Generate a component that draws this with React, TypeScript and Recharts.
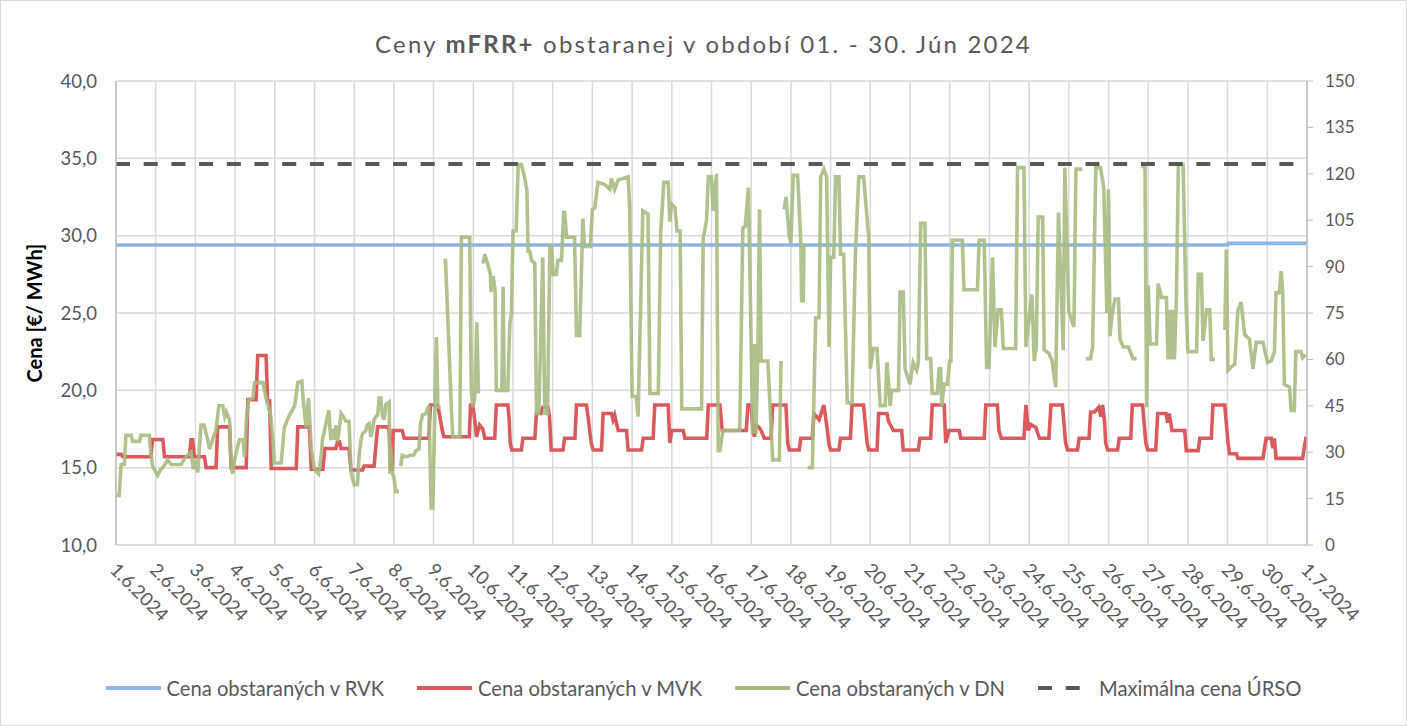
import { LineChart, Line, XAxis, YAxis, CartesianGrid, Legend } from 'recharts';

type Pt = [number, number | null];

const W = 1407;
const H = 726;
const FONT = 'Lato, "Noto Sans", sans-serif';
const TEXT = '#595959';

// x = days since 1.6.2024 00:00
const dayLabels = [
  '1.6.2024', '2.6.2024', '3.6.2024', '4.6.2024', '5.6.2024', '6.6.2024', '7.6.2024',
  '8.6.2024', '9.6.2024', '10.6.2024', '11.6.2024', '12.6.2024', '13.6.2024', '14.6.2024',
  '15.6.2024', '16.6.2024', '17.6.2024', '18.6.2024', '19.6.2024', '20.6.2024', '21.6.2024',
  '22.6.2024', '23.6.2024', '24.6.2024', '25.6.2024', '26.6.2024', '27.6.2024', '28.6.2024',
  '29.6.2024', '30.6.2024', '1.7.2024',
];
const dayTicks = dayLabels.map((_, i) => i);
const leftTicks = [10, 15, 20, 25, 30, 35, 40];
const rightTicks = [0, 15, 30, 45, 60, 75, 90, 105, 120, 135, 150];

// Cena obstaraných v RVK
const rvk: Pt[] = [[0, 29.4], [28, 29.4], [28.02, 29.5], [30, 29.5]];

// Maximálna cena ÚRSO (right axis)
const urso: Pt[] = [[0, 123.2], [30, 123.2]];

// Cena obstaraných v MVK
const mvk: Pt[] = [
  [0, 15.86], [0.13, 15.86], [0.17, 15.71], [0.88, 15.71], [0.92, 16.82], [1.18, 16.82], [1.22, 15.71],
  [1.85, 15.71], [1.89, 16.8], [1.93, 16.8], [1.97, 15.71], [2.23, 15.71], [2.27, 15.0], [2.52, 15.0],
  [2.56, 17.64], [2.86, 17.64], [2.9, 15.0], [3.28, 15.0], [3.32, 19.4], [3.53, 19.4], [3.57, 22.25],
  [3.78, 22.25], [3.82, 19.3], [3.87, 19.3], [3.91, 14.95], [4.54, 14.95], [4.58, 17.64], [4.87, 17.64],
  [4.92, 14.9], [5.21, 14.9], [5.26, 16.24], [5.54, 16.24], [5.58, 16.67], [5.63, 16.67], [5.67, 16.24],
  [5.87, 16.24], [5.92, 14.85], [6.21, 14.85], [6.25, 15.1], [6.5, 15.1], [6.59, 17.64], [6.84, 17.64],
  [6.88, 17.4], [6.92, 14.9], [6.96, 14.9], [6.98, 17.4], [7.21, 17.4], [7.26, 16.9], [7.88, 16.9],
  [7.92, 19.05], [8.09, 19.05], [8.13, 18.7], [8.22, 17.4], [8.26, 17.0], [8.9, 17.0], [8.93, 19.05],
  [8.99, 19.05], [9.03, 18.2], [9.08, 17.0], [9.16, 17.75], [9.24, 17.5], [9.29, 16.9], [9.54, 16.9],
  [9.58, 19.05], [9.87, 19.05], [9.9, 18.3], [9.93, 16.6], [9.97, 16.14], [10.21, 16.14], [10.25, 16.9],
  [10.55, 16.9], [10.59, 18.5], [10.7, 18.5], [10.75, 18.9], [10.88, 18.9], [10.92, 18.3], [10.96, 16.14],
  [11.26, 16.14], [11.3, 16.9], [11.56, 16.9], [11.6, 19.05], [11.85, 19.05], [11.89, 18.3], [11.97, 16.6],
  [12.02, 16.14], [12.23, 16.14], [12.27, 18.5], [12.48, 18.5], [12.52, 18.1], [12.56, 18.4], [12.65, 17.4],
  [12.86, 17.4], [12.9, 16.14], [13.24, 16.14], [13.28, 16.9], [13.53, 16.9], [13.57, 19.05], [13.91, 19.05],
  [13.95, 16.6], [14.0, 17.4], [14.29, 17.4], [14.33, 16.9], [14.88, 16.9], [14.92, 19.05], [15.21, 19.05],
  [15.27, 17.4], [15.875, 17.4], [15.92, 19.05], [16.0, 19.05], [16.04, 17.65], [16.08, 17.0], [16.12, 17.75],
  [16.2, 17.6], [16.25, 17.4], [16.33, 16.9], [16.5, 16.9], [16.54, 19.05], [16.875, 19.05], [16.92, 16.6],
  [16.96, 16.14], [17.21, 16.14], [17.25, 16.9], [17.54, 16.9], [17.58, 18.5], [17.65, 18.3], [17.71, 18.1],
  [17.83, 19.05], [17.92, 17.4], [17.96, 16.5], [18.0, 16.14], [18.21, 16.14], [18.25, 16.9], [18.5, 16.9],
  [18.54, 19.05], [18.83, 19.05], [18.92, 16.6], [18.96, 16.14], [19.17, 16.14], [19.21, 18.5], [19.42, 18.5],
  [19.46, 18.0], [19.58, 17.4], [19.79, 17.4], [19.83, 16.14], [20.21, 16.14], [20.25, 16.9], [20.52, 16.9],
  [20.56, 19.05], [20.86, 19.05], [20.9, 16.6], [20.98, 17.4], [21.24, 17.4], [21.28, 16.9], [21.87, 16.9],
  [21.91, 19.05], [22.2, 19.05], [22.24, 17.4], [22.3, 16.9], [22.87, 16.9], [22.92, 19.05], [22.98, 17.4],
  [23.04, 17.8], [23.17, 17.6], [23.26, 16.9], [23.5, 16.9], [23.55, 19.05], [23.84, 19.05], [23.92, 16.6],
  [23.97, 16.14], [24.22, 16.14], [24.26, 16.9], [24.51, 16.9], [24.55, 18.6], [24.65, 18.6], [24.75, 18.9],
  [24.81, 18.3], [24.85, 19.05], [24.9, 18.0], [24.93, 16.6], [24.98, 16.14], [25.23, 16.14], [25.27, 16.9],
  [25.56, 16.9], [25.6, 19.05], [25.86, 19.05], [25.94, 16.6], [25.99, 16.14], [26.19, 16.14], [26.24, 18.5],
  [26.45, 18.5], [26.49, 17.9], [26.53, 18.5], [26.6, 17.4], [26.92, 17.4], [26.96, 16.1], [27.26, 16.1],
  [27.3, 16.9], [27.59, 16.9], [27.63, 19.05], [27.93, 19.05], [28.01, 16.6], [28.05, 15.9], [28.22, 15.9],
  [28.26, 15.6], [28.89, 15.6], [28.97, 16.9], [29.1, 16.9], [29.14, 16.25], [29.18, 16.9], [29.22, 15.6],
  [29.89, 15.6], [29.97, 16.9], [30, 16.9],
];

// Cena obstaraných v DN (null = no data)
const dn: Pt[] = [
  [0, 13.2], [0.08, 13.2], [0.13, 15.2], [0.21, 15.2], [0.25, 17.1], [0.38, 17.1], [0.42, 16.7], [0.59, 16.7],
  [0.63, 17.1], [0.84, 17.1], [0.88, 15.9], [0.92, 15.1], [1.05, 14.5], [1.13, 14.9], [1.18, 15.0], [1.3, 15.5],
  [1.39, 15.2], [1.64, 15.2], [1.76, 15.7], [1.89, 16.0], [1.95, 14.9], [2.0, 15.5], [2.06, 14.7], [2.14, 17.75],
  [2.22, 17.75], [2.31, 16.8], [2.36, 16.2], [2.44, 16.9], [2.52, 17.4], [2.59, 19.0], [2.69, 19.0], [2.74, 18.3],
  [2.78, 18.6], [2.86, 18.1], [2.9, 15.1], [2.94, 14.6], [3.0, 15.7], [3.11, 16.8], [3.2, 16.8], [3.24, 15.7],
  [3.28, 17.9], [3.34, 19.4], [3.45, 19.5], [3.49, 20.5], [3.7, 20.5], [3.78, 19.5], [3.9, 18.3], [3.95, 16.8],
  [3.99, 15.3], [4.16, 15.3], [4.24, 17.6], [4.37, 18.4], [4.5, 19.0], [4.58, 20.5], [4.68, 20.6], [4.71, 19.5],
  [4.79, 17.6], [4.85, 19.5], [4.92, 16.1], [5.0, 14.9], [5.1, 14.6], [5.17, 15.8], [5.2, 16.8], [5.36, 18.7],
  [5.41, 16.8], [5.46, 17.5], [5.5, 16.8], [5.54, 17.75], [5.58, 16.7], [5.62, 17.4], [5.67, 18.5], [5.75, 18.2],
  [5.79, 18.0], [5.87, 18.0], [5.92, 14.7], [6.0, 13.9], [6.08, 13.9], [6.12, 15.7], [6.17, 16.8], [6.21, 17.2],
  [6.29, 17.4], [6.33, 17.75], [6.38, 17.85], [6.42, 17.0], [6.46, 17.4], [6.5, 18.1], [6.55, 18.3], [6.59, 18.4],
  [6.63, 19.5], [6.67, 19.5], [6.71, 18.4], [6.75, 18.1], [6.8, 19.1], [6.88, 19.25], [6.9, 14.6], [6.92, 16.35],
  [6.96, 14.6], [7.0, 14.4], [7.05, 13.45], [7.13, 13.45], [7.15, null], [7.17, 15.1], [7.21, 15.8], [7.3, 15.7],
  [7.42, 15.8], [7.5, 15.8], [7.55, 16.1], [7.63, 16.2], [7.67, 17.85], [7.72, 18.4], [7.8, 18.5], [7.88, 19.0],
  [7.94, 12.4], [7.98, 12.4], [8.07, 23.45], [8.11, 18.9], [8.18, 18.9], [8.21, null], [8.25, 28.4], [8.3, 28.4],
  [8.45, 18.7], [8.48, 17.0], [8.66, 17.0], [8.7, 29.9], [8.91, 29.9], [8.95, 20.0], [8.99, 18.9], [9.04, 19.6],
  [9.09, 24.4], [9.13, 19.8], [9.18, null], [9.24, 28.2], [9.29, 28.8], [9.37, 28.1], [9.43, 27.5], [9.45, 26.35],
  [9.5, 27.4], [9.55, 26.4], [9.58, 20.0], [9.72, 20.0], [9.75, 26.7], [9.78, 20.0], [9.87, 20.0], [9.92, 24.3],
  [9.96, 24.95], [10.0, 30.3], [10.08, 30.3], [10.13, 34.6], [10.21, 34.6], [10.25, 34.2], [10.29, 33.8],
  [10.35, 32.9], [10.38, 29.0], [10.42, 29.0], [10.47, 28.4], [10.55, 28.2], [10.59, 18.5], [10.65, 18.5],
  [10.75, 28.6], [10.8, 18.5], [10.87, 18.5], [10.93, 29.35], [10.97, 29.35], [11.01, 27.5], [11.09, 27.5],
  [11.13, 28.4], [11.22, 28.4], [11.28, 31.5], [11.3, 31.5], [11.35, 29.9], [11.55, 29.9], [11.6, 23.55],
  [11.68, 23.55], [11.76, 31.1], [11.8, 29.3], [11.95, 29.3], [12.0, 31.7], [12.06, 31.8], [12.14, 33.45],
  [12.31, 33.3], [12.44, 33.0], [12.48, 33.7], [12.56, 33.0], [12.65, 33.6], [12.9, 33.8], [12.94, 31.8],
  [13.0, 19.6], [13.1, 19.6], [13.15, 18.3], [13.27, 31.6], [13.4, 31.4], [13.45, 19.8], [13.66, 19.8],
  [13.72, 30.2], [13.8, 33.45], [13.91, 33.45], [13.95, 30.9], [13.99, 32.05], [14.08, 31.8], [14.13, 30.3],
  [14.21, 30.3], [14.25, 18.8], [14.75, 18.8], [14.79, 29.8], [14.875, 31.0], [14.92, 33.8], [15.0, 33.8],
  [15.04, 31.6], [15.125, 34.0], [15.17, 16.1], [15.21, 16.1], [15.29, 17.4], [15.71, 17.4], [15.79, 30.5],
  [15.85, 30.6], [15.93, 33.1], [16.0, 23.0], [16.04, 17.2], [16.08, 23.0], [16.12, 17.2], [16.17, 23.0],
  [16.21, 31.7], [16.25, 21.9], [16.42, 21.9], [16.54, 15.5], [16.71, 15.5], [16.75, 21.9], [16.79, null],
  [16.83, 31.7], [16.875, 32.5], [16.92, 31.2], [16.96, 29.9], [17.0, 29.5], [17.06, 33.9], [17.17, 33.9],
  [17.25, 29.5], [17.27, 25.8], [17.31, 25.8], [17.33, 29.5], [17.38, null], [17.42, 15.0], [17.54, 15.0],
  [17.625, 24.7], [17.71, 24.7], [17.75, 33.8], [17.83, 34.3], [17.9, 33.8], [17.96, 22.8], [18.0, 28.6],
  [18.08, 28.6], [18.125, 33.8], [18.21, 33.8], [18.25, 28.8], [18.33, 28.8], [18.42, 19.2], [18.54, 19.2],
  [18.625, 28.8], [18.71, 33.8], [18.83, 33.8], [18.96, 29.9], [19.0, 21.4], [19.08, 22.7], [19.17, 22.7],
  [19.25, 19.0], [19.375, 19.0], [19.42, 21.8], [19.5, 19.0], [19.54, 20.0], [19.71, 20.0], [19.75, 26.35],
  [19.83, 26.35], [19.875, 21.4], [20.0, 20.4], [20.08, 21.8], [20.17, 21.3], [20.21, 21.8], [20.27, 30.8],
  [20.375, 30.8], [20.42, 22.05], [20.52, 22.05], [20.56, 19.8], [20.69, 19.8], [20.73, 21.4], [20.77, 21.4],
  [20.8, 19.0], [20.86, 20.4], [20.94, 20.4], [21.0, 21.9], [21.03, 21.9], [21.07, 29.7], [21.32, 29.7],
  [21.36, 26.5], [21.7, 26.5], [21.74, 29.7], [21.87, 29.7], [21.93, 21.5], [21.99, 21.5], [22.08, 28.6],
  [22.14, 22.8], [22.22, 25.2], [22.3, 25.2], [22.35, 22.7], [22.66, 22.7], [22.71, 34.4], [22.87, 34.4],
  [22.92, 22.8], [23.07, 26.2], [23.13, 21.9], [23.18, 22.8], [23.23, 31.2], [23.34, 31.2], [23.38, 22.6],
  [23.5, 22.4], [23.58, 21.9], [23.67, 20.2], [23.74, 31.5], [23.86, 22.6], [23.9, 34.4], [24.0, 25.1],
  [24.13, 24.1], [24.18, 34.3], [24.34, 34.3], [24.38, null], [24.43, 22.05], [24.55, 22.05], [24.6, 22.8],
  [24.68, 34.4], [24.8, 34.4], [24.88, 33.1], [24.96, 25.0], [25.0, 33.0], [25.04, 23.5], [25.08, 24.7],
  [25.16, 25.9], [25.25, 25.9], [25.29, 23.3], [25.37, 22.8], [25.5, 22.8], [25.62, 22.05], [25.71, 22.05],
  [25.76, null], [25.84, 34.5], [25.92, 34.4], [25.96, 18.9], [26.0, 26.8], [26.05, 23.0], [26.21, 23.0],
  [26.25, 26.9], [26.34, 26.0], [26.46, 26.0], [26.5, 22.0], [26.54, 25.2], [26.58, 22.0], [26.62, 25.2],
  [26.66, 22.0], [26.71, 26.0], [26.76, 34.6], [26.88, 34.6], [26.95, 25.8], [27.0, 22.5], [27.22, 22.5],
  [27.26, 27.5], [27.34, 27.5], [27.38, 23.2], [27.47, 25.2], [27.55, 25.2], [27.59, 22.0], [27.68, 22.0],
  [27.8, null], [27.93, 23.9], [27.97, 29.1], [28.01, 21.3], [28.09, 21.5], [28.18, 21.7], [28.26, 25.2],
  [28.34, 25.7], [28.43, 23.6], [28.55, 23.3], [28.64, 21.4], [28.72, 23.1], [28.89, 23.1], [29.01, 21.8],
  [29.1, 21.9], [29.18, 22.5], [29.22, 26.3], [29.3, 26.3], [29.35, 27.7], [29.39, 26.3], [29.43, 20.4],
  [29.56, 20.2], [29.6, 18.7], [29.68, 18.7], [29.72, 22.5], [29.85, 22.5], [29.89, 22.1], [29.97, 22.3],
];

const toRows = (pts: Pt[]) => pts.map(([t, v]) => ({ t, v }));

const SERIES = [
  { key: 'rvk', name: 'Cena obstaraných v RVK', color: '#8fb4e3', axis: 'left', dash: undefined, width: 3.6, opacity: 1, points: rvk },
  { key: 'mvk', name: 'Cena obstaraných v MVK', color: '#da5a5d', axis: 'left', dash: undefined, width: 3.6, opacity: 1, points: mvk },
  { key: 'dn', name: 'Cena obstaraných v DN', color: '#a5bb7f', axis: 'left', dash: undefined, width: 3.6, opacity: 0.88, points: dn },
  { key: 'urso', name: 'Maximálna cena ÚRSO', color: '#595959', axis: 'right', dash: '14 13.7', width: 4, opacity: 1, points: urso },
];

function DateTick(props: any) {
  const { x, y, payload } = props;
  return (
    <text
      x={0}
      y={0}
      transform={`translate(${x - 7},${y + 26}) rotate(45)`}
      textAnchor="start"
      fontSize={18.5}
      fontFamily={FONT}
      fill={TEXT}
    >
      {dayLabels[payload.value]}
    </text>
  );
}

const renderLegend = () => (
  <div
    style={{
      display: 'flex',
      justifyContent: 'center',
      gap: 33,
      fontFamily: FONT,
      fontSize: 20.2,
      color: TEXT,
    }}
  >
    {SERIES.map((s) => (
      <div key={s.key} style={{ display: 'flex', alignItems: 'center', gap: 6 }}>
        <svg width={55} height={10}>
          <line x1={0} y1={5} x2={55} y2={5} stroke={s.color} strokeWidth={4} strokeDasharray={s.dash ? '14 13.7' : undefined} />
        </svg>
        <span>{s.name}</span>
      </div>
    ))}
  </div>
);

export default function App() {
  return (
    <div style={{ position: 'absolute', left: 0, top: 0, width: W, height: H, background: '#fff' }}>
      <div
        style={{
          position: 'absolute',
          left: 0,
          top: 0,
          width: W,
          height: H,
          border: '1px solid #d9d9d9',
          boxSizing: 'border-box',
          pointerEvents: 'none',
        }}
      />
      <div
        style={{
          position: 'absolute',
          top: 29,
          left: 0,
          width: W,
          textAlign: 'center',
          fontFamily: FONT,
          fontSize: 24,
          letterSpacing: 2.2,
          color: TEXT,
          lineHeight: '30px',
        }}
      >
        Ceny <b>mFRR+</b> obstaranej v období 01. - 30. Jún 2024
      </div>
      <LineChart width={W} height={H} margin={{ top: 81, right: 40, bottom: 81, left: 10 }}>
        <CartesianGrid yAxisId="left" stroke="#d9d9d9" strokeWidth={1.5} />
        <XAxis
          dataKey="t"
          type="number"
          domain={[0, 30]}
          ticks={dayTicks}
          interval={0}
          allowDataOverflow
          height={100}
          tickLine={false}
          tickSize={0}
          tickMargin={0}
          axisLine={{ stroke: '#d9d9d9', strokeWidth: 1.5 }}
          tick={<DateTick />}
        />
        <YAxis
          yAxisId="left"
          domain={[10, 40]}
          ticks={leftTicks}
          allowDataOverflow
          width={106}
          tickLine={false}
          tickSize={0}
          tickMargin={19}
          axisLine={{ stroke: '#bfbfbf', strokeWidth: 1.5 }}
          tick={{ fill: TEXT, fontSize: 18.5, fontFamily: FONT }}
          tickFormatter={(v: number) => v.toFixed(1).replace('.', ',')}
          label={{
            value: 'Cena [€/ MWh]',
            angle: -90,
            position: 'insideLeft',
            offset: 25,
            style: { textAnchor: 'middle', fontWeight: 700, fill: '#000', fontSize: 20, fontFamily: FONT },
          }}
        />
        <YAxis
          yAxisId="right"
          orientation="right"
          domain={[0, 150]}
          ticks={rightTicks}
          allowDataOverflow
          width={60}
          tickSize={6}
          tickMargin={12}
          tickLine={{ stroke: '#bfbfbf' }}
          axisLine={{ stroke: '#bfbfbf', strokeWidth: 1.5 }}
          tick={{ fill: TEXT, fontSize: 17, fontFamily: FONT, textAnchor: 'start' }}
        />
        {SERIES.map((s) => (
          <Line
            key={s.key}
            data={toRows(s.points)}
            dataKey="v"
            name={s.name}
            yAxisId={s.axis}
            type="linear"
            stroke={s.color}
            strokeWidth={s.width}
            strokeOpacity={s.opacity}
            strokeDasharray={s.dash}
            dot={false}
            activeDot={false}
            connectNulls={false}
            isAnimationActive={false}
          />
        ))}
        <Legend
          layout="horizontal"
          verticalAlign="middle"
          align="center"
          wrapperStyle={{ top: 676, left: 0, width: W }}
          content={renderLegend}
        />
      </LineChart>
    </div>
  );
}
